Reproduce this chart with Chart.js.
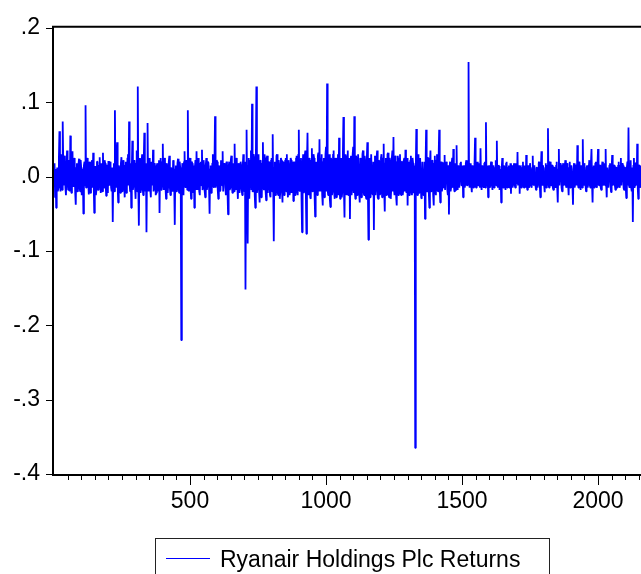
<!DOCTYPE html>
<html>
<head>
<meta charset="utf-8">
<title>Ryanair Holdings Plc Returns</title>
<script src="https://cdn.jsdelivr.net/npm/chart.js@4/dist/chart.umd.min.js"></script>
<style>
  html, body { margin: 0; padding: 0; background: #ffffff; overflow: hidden; }
  canvas { display: block; }
</style>
</head>
<body>
<canvas id="chart" width="641" height="574"></canvas>
<script>
// Daily returns, one reading every 2nd observation (obs 0, 2, 4, ...).
const seriesLabel = 'Ryanair Holdings Plc Returns';
const obsStep = 2;
const returns = [
  // obs 0-78
  0.005, 0.018, -0.028, 0.01, -0.042, -0.005, 0.012, -0.02, -0.015, 0.025, 0.061, -0.01, -0.02, 0.015, 0.03, -0.018, 0.074, 0.02, -0.012, 0.028, 0.022, -0.015, -0.025, 0.012, 0.035, -0.008, -0.018, 0.022, 0.02, -0.02, 0.055, 0.01, -0.022, 0.018, 0.034, -0.01, -0.014, 0.025, 0.016, -0.022,
  // obs 80-158
  -0.038, 0.012, 0.018, -0.02, -0.01, 0.016, 0.024, -0.015, -0.02, 0.022, 0.012, -0.025, -0.016, 0.01, -0.05, 0.015, 0.02, -0.012, 0.096, -0.015, -0.012, 0.025, 0.018, -0.01, -0.024, 0.02, 0.015, -0.022, -0.01, 0.018, 0.022, -0.015, 0.032, -0.01, -0.049, 0.012, 0.014, -0.025, -0.018, 0.02,
  // obs 160-238
  0.02, -0.018, -0.008, 0.015, 0.026, -0.012, -0.022, 0.018, 0.012, -0.02, 0.032, -0.01, -0.015, 0.022, 0.018, -0.012, -0.026, 0.016, 0.01, -0.022, 0.021, -0.01, -0.012, 0.02, 0.015, -0.015, -0.02, 0.012, -0.061, 0.005, 0.018, -0.02, 0.089, -0.01, -0.014, 0.022, 0.046, -0.012, -0.035, 0.015,
  // obs 240-318
  0.012, -0.015, -0.022, 0.018, 0.026, -0.02, -0.01, 0.022, 0.018, -0.012, -0.028, 0.015, 0.02, -0.022, -0.015, 0.025, 0.03, -0.012, 0.074, -0.01, -0.02, 0.018, -0.042, 0.01, 0.048, -0.018, -0.012, 0.02, 0.022, -0.015, -0.03, 0.018, 0.035, -0.02, 0.121, -0.015, -0.066, 0.012, 0.025, -0.022,
  // obs 320-398
  -0.018, 0.02, 0.03, -0.015, -0.025, 0.022, 0.059, -0.02, -0.012, 0.018, -0.075, 0.01, 0.072, -0.015, -0.02, 0.025, 0.015, -0.018, -0.028, 0.02, 0.02, -0.012, 0.036, -0.02, -0.015, 0.018, 0.012, -0.025, -0.022, 0.015, 0.018, -0.02, -0.01, 0.022, -0.049, 0.012, 0.025, -0.018, -0.012, 0.02,
  // obs 400-478
  0.044, -0.012, -0.018, 0.025, 0.02, -0.015, -0.03, 0.018, 0.015, -0.022, -0.012, 0.02, 0.028, -0.015, -0.025, 0.012, 0.01, -0.018, -0.02, 0.022, 0.018, -0.012, -0.065, 0.01, 0.015, -0.02, -0.01, 0.018, 0.024, -0.015, -0.022, 0.02, 0.012, -0.01, -0.22, 0.005, 0.018, -0.015, -0.025, 0.02,
  // obs 480-558
  0.034, -0.012, -0.015, 0.022, 0.02, -0.018, 0.089, -0.01, -0.02, 0.018, 0.025, -0.015, -0.03, 0.02, 0.018, -0.022, -0.012, 0.015, -0.042, 0.012, 0.022, -0.018, 0.034, -0.012, -0.018, 0.025, 0.015, -0.02, -0.025, 0.018, 0.02, -0.012, 0.036, -0.018, -0.015, 0.022, 0.012, -0.02, -0.028, 0.015,
  // obs 560-638
  0.025, -0.018, -0.012, 0.02, 0.018, -0.015, -0.05, 0.01, 0.015, -0.022, -0.02, 0.018, 0.03, -0.012, -0.015, 0.02, 0.081, -0.015, -0.01, 0.022, 0.02, -0.018, -0.03, 0.015, 0.012, -0.02, -0.018, 0.022, 0.022, -0.012, 0.034, -0.02, -0.02, 0.018, 0.015, -0.015, -0.025, 0.02, 0.018, -0.022,
  // obs 640-718
  -0.051, 0.012, 0.02, -0.018, -0.015, 0.022, 0.028, -0.012, -0.022, 0.018, 0.012, -0.02, 0.044, -0.015, -0.018, 0.025, 0.02, -0.012, -0.03, 0.018, 0.015, -0.022, -0.012, 0.02, 0.014, -0.018, -0.025, 0.015, 0.03, -0.012, -0.02, 0.02, -0.152, 0.01, 0.063, -0.02, -0.09, 0.015, 0.025, -0.03,
  // obs 720-798
  -0.03, 0.022, 0.035, -0.018, 0.098, -0.02, -0.02, 0.03, 0.025, -0.025, -0.042, 0.018, 0.121, -0.022, -0.015, 0.025, 0.03, -0.02, -0.035, 0.022, 0.02, -0.028, -0.025, 0.018, 0.046, -0.015, -0.018, 0.03, 0.022, -0.02, -0.032, 0.025, 0.028, -0.022, -0.012, 0.02, 0.018, -0.025, -0.028, 0.022,
  // obs 800-878
  0.025, -0.02, 0.057, -0.015, -0.087, 0.012, 0.02, -0.025, -0.015, 0.028, 0.03, -0.02, -0.025, 0.022, 0.015, -0.03, -0.02, 0.025, 0.022, -0.018, -0.035, 0.02, 0.018, -0.025, -0.012, 0.022, 0.025, -0.02, 0.03, -0.015, -0.028, 0.022, 0.015, -0.025, -0.02, 0.025, 0.022, -0.022, -0.015, 0.02,
  // obs 880-958
  -0.033, 0.018, 0.02, -0.025, -0.015, 0.025, 0.028, -0.02, -0.025, 0.03, 0.063, -0.018, -0.02, 0.022, 0.025, -0.03, -0.075, 0.015, 0.03, -0.022, -0.02, 0.028, 0.035, -0.025, -0.077, 0.02, 0.059, -0.02, -0.025, 0.025, 0.02, -0.028, -0.03, 0.022, 0.038, -0.02, -0.018, 0.03, 0.025, -0.025,
  // obs 960-1038
  -0.054, 0.015, 0.02, -0.022, -0.025, 0.028, 0.032, -0.02, 0.05, -0.015, -0.02, 0.025, 0.03, -0.025, -0.039, 0.02, 0.025, -0.028, -0.015, 0.03, 0.04, -0.02, 0.125, -0.018, -0.025, 0.022, 0.03, -0.03, -0.041, 0.025, 0.022, -0.025, -0.018, 0.03, 0.035, -0.022, -0.03, 0.025, 0.02, -0.028,
  // obs 1040-1118
  -0.022, 0.025, 0.03, -0.025, 0.052, -0.018, -0.03, 0.022, 0.025, -0.028, -0.02, 0.03, 0.08, -0.02, -0.055, 0.02, 0.03, -0.022, -0.025, 0.028, 0.035, -0.025, -0.02, 0.025, -0.057, 0.018, 0.028, -0.025, -0.015, 0.03, 0.04, -0.022, 0.081, -0.02, -0.03, 0.028, 0.025, -0.025, -0.02, 0.03,
  // obs 1120-1198
  0.03, -0.022, -0.035, 0.025, 0.022, -0.028, -0.018, 0.03, 0.035, -0.02, -0.025, 0.028, 0.02, -0.025, -0.03, 0.025, 0.046, -0.02, -0.085, 0.018, 0.025, -0.028, -0.02, 0.03, 0.03, -0.022, -0.025, 0.02, -0.072, 0.015, 0.028, -0.025, -0.015, 0.025, 0.035, -0.028, -0.03, 0.022, 0.02, -0.025,
  // obs 1200-1278
  -0.022, 0.025, 0.03, -0.028, -0.018, 0.025, 0.044, -0.02, -0.047, 0.018, 0.025, -0.025, -0.02, 0.03, 0.032, -0.022, -0.028, 0.025, 0.02, -0.03, -0.015, 0.025, 0.035, -0.02, 0.053, -0.018, -0.025, 0.028, 0.022, -0.028, -0.039, 0.02, 0.028, -0.025, -0.02, 0.025, 0.03, -0.022, -0.025, 0.02,
  // obs 1280-1358
  0.02, -0.025, -0.018, 0.022, 0.025, -0.02, 0.036, -0.018, -0.022, 0.025, -0.039, 0.015, 0.02, -0.025, -0.015, 0.022, 0.028, -0.02, -0.025, 0.025, 0.018, -0.022, -0.02, 0.015, -0.365, 0.01, 0.064, -0.02, -0.025, 0.028, 0.03, -0.022, -0.02, 0.025, 0.025, -0.028, -0.03, 0.02, 0.02, -0.025,
  // obs 1360-1438
  -0.022, 0.02, -0.057, 0.015, 0.063, -0.02, -0.02, 0.025, 0.025, -0.022, -0.042, 0.018, 0.035, -0.02, -0.018, 0.022, 0.02, -0.025, -0.039, 0.018, 0.028, -0.02, -0.025, 0.022, 0.03, -0.018, -0.02, 0.025, 0.063, -0.015, -0.035, 0.018, 0.02, -0.02, -0.015, 0.018, 0.018, -0.015, 0.029, -0.018,
  // obs 1440-1518
  -0.018, 0.02, 0.015, -0.018, -0.025, 0.015, -0.051, 0.01, 0.02, -0.02, -0.015, 0.018, 0.025, -0.015, 0.037, -0.012, -0.02, 0.018, 0.015, -0.018, 0.042, -0.01, -0.018, 0.015, 0.012, -0.015, -0.015, 0.018, 0.02, -0.012, -0.012, 0.015, -0.028, 0.01, 0.015, -0.015, -0.01, 0.018, 0.022, -0.012,
  // obs 1520-1598
  -0.012, 0.015, 0.154, -0.01, -0.015, 0.012, 0.018, -0.012, -0.021, 0.015, 0.012, -0.015, -0.01, 0.018, 0.052, -0.012, -0.015, 0.015, 0.02, -0.012, -0.012, 0.018, 0.015, -0.015, 0.038, -0.01, -0.018, 0.015, 0.012, -0.012, -0.015, 0.018, 0.02, -0.015, 0.073, -0.01, -0.012, 0.015, -0.028, 0.012,
  // obs 1600-1678
  0.015, -0.015, -0.012, 0.018, 0.02, -0.012, -0.018, 0.015, 0.012, -0.015, -0.01, 0.012, 0.022, -0.012, 0.048, -0.01, -0.015, 0.015, 0.014, -0.018, -0.012, 0.01, -0.035, 0.012, 0.025, -0.012, -0.015, 0.015, 0.012, -0.012, -0.018, 0.018, 0.02, -0.015, -0.01, 0.012, 0.015, -0.015, -0.012, 0.018,
  // obs 1680-1758
  -0.023, 0.012, 0.015, -0.015, -0.01, 0.015, 0.018, -0.012, -0.015, 0.018, 0.012, -0.01, 0.033, -0.012, -0.012, 0.015, -0.023, 0.01, 0.015, -0.015, -0.01, 0.012, 0.02, -0.012, -0.015, 0.015, 0.012, -0.015, 0.029, -0.01, -0.018, 0.012, 0.015, -0.015, -0.012, 0.018, 0.018, -0.012, -0.015, 0.012,
  // obs 1760-1838
  0.028, -0.01, -0.012, 0.015, 0.015, -0.012, -0.018, 0.012, 0.012, -0.015, -0.01, 0.018, 0.02, -0.012, -0.028, 0.012, 0.034, -0.01, -0.012, 0.015, 0.015, -0.012, -0.021, 0.012, 0.018, -0.015, -0.01, 0.015, 0.065, -0.01, -0.015, 0.018, 0.02, -0.012, -0.012, 0.015, 0.015, -0.015, -0.018, 0.012,
  // obs 1840-1918
  0.012, -0.012, -0.015, 0.015, 0.02, -0.015, -0.035, 0.01, 0.037, -0.012, -0.012, 0.018, 0.015, -0.015, -0.02, 0.012, 0.018, -0.012, -0.01, 0.015, 0.022, -0.012, -0.015, 0.018, 0.012, -0.01, -0.025, 0.012, 0.02, -0.015, -0.012, 0.015, 0.015, -0.012, -0.038, 0.01, 0.018, -0.015, -0.01, 0.015,
  // obs 1920-1998
  0.015, -0.012, 0.042, -0.01, -0.015, 0.018, 0.02, -0.012, -0.018, 0.015, 0.012, -0.015, 0.05, -0.01, -0.012, 0.018, 0.018, -0.012, -0.02, 0.012, 0.015, -0.015, -0.01, 0.012, 0.022, -0.012, -0.015, 0.018, 0.037, -0.01, -0.035, 0.012, 0.015, -0.015, -0.012, 0.018, 0.02, -0.012, -0.015, 0.015,
  // obs 2000-2078
  0.037, -0.01, -0.012, 0.015, 0.015, -0.015, -0.018, 0.012, 0.02, -0.012, -0.01, 0.015, 0.018, -0.012, 0.037, -0.01, -0.028, 0.012, 0.012, -0.015, -0.015, 0.015, 0.018, -0.012, -0.021, 0.01, 0.029, -0.012, -0.01, 0.015, 0.015, -0.012, -0.018, 0.012, 0.012, -0.015, -0.012, 0.015, 0.02, -0.012,
  // obs 2080-2158
  -0.015, 0.015, 0.025, -0.012, -0.012, 0.018, 0.015, -0.015, -0.018, 0.012, 0.012, -0.015, -0.029, 0.012, 0.02, -0.012, 0.066, -0.012, -0.015, 0.018, 0.022, -0.015, -0.02, 0.012, -0.061, 0.015, 0.025, -0.015, -0.012, 0.018, 0.018, -0.012, 0.044, -0.015, -0.03, 0.015, 0.015, -0.015, -0.012, 0.015
];

// Axis ticks
const yTickValues = [-0.4, -0.3, -0.2, -0.1, 0.0, 0.1, 0.2];
const xMajorTicks = [500, 1000, 1500, 2000];
const xMinorStep = 50;
const xMin = 0;
const xMax = 2158;

const points = returns.map((v, i) => ({ x: i * obsStep, y: v }));

const FONT = "'Liberation Sans', Arial, Helvetica, sans-serif";
const BLUE = '#0000ff';

function fmtY(v) {
  const s = (Math.round(v * 10) / 10).toFixed(1);
  return s.replace('0.', '.');
}

const whiteBackground = {
  id: 'whiteBackground',
  beforeDraw(chart) {
    const ctx = chart.ctx;
    ctx.save();
    ctx.fillStyle = '#ffffff';
    ctx.fillRect(0, 0, chart.width, chart.height);
    ctx.restore();
  }
};

// Frame, tick marks and boxed legend in the EViews style
const frameAndLegend = {
  id: 'frameAndLegend',
  afterDatasetsDraw(chart) {
    const { ctx, chartArea: a, scales } = chart;
    const xs = scales.x, ys = scales.y;
    ctx.save();
    ctx.strokeStyle = '#000000';

    // tick marks on the left axis
    ctx.lineWidth = 1;
    yTickValues.forEach(v => {
      const y = Math.round(ys.getPixelForValue(v)) + 0.5;
      ctx.beginPath();
      ctx.moveTo(a.left - 8, y);
      ctx.lineTo(a.left - 1, y);
      ctx.stroke();
    });

    // minor and major tick marks on the bottom axis
    for (let v = xMinorStep; v <= xMax; v += xMinorStep) {
      const x = Math.round(xs.getPixelForValue(v)) + 0.5;
      const major = xMajorTicks.includes(v);
      ctx.beginPath();
      ctx.moveTo(x, a.bottom + 1);
      ctx.lineTo(x, a.bottom + (major ? 11 : 6));
      ctx.stroke();
    }

    // axis frame (left, top, bottom)
    ctx.lineWidth = 2;
    ctx.beginPath();
    ctx.moveTo(chart.width, a.top - 1);
    ctx.lineTo(a.left - 1, a.top - 1);
    ctx.lineTo(a.left - 1, a.bottom + 1);
    ctx.lineTo(chart.width, a.bottom + 1);
    ctx.stroke();

    // legend box
    const ds = chart.data.datasets[0];
    ctx.lineWidth = 1;
    ctx.strokeStyle = '#222222';
    ctx.strokeRect(155.5, 538.5, 394, 60);
    ctx.strokeStyle = ds.borderColor;
    ctx.lineWidth = 1.2;
    ctx.beginPath();
    ctx.moveTo(166, 558.5);
    ctx.lineTo(210, 558.5);
    ctx.stroke();
    ctx.fillStyle = '#000000';
    ctx.font = '23px ' + FONT;
    ctx.textBaseline = 'alphabetic';
    ctx.textAlign = 'left';
    ctx.fillText(ds.label, 220, 567);
    ctx.restore();
  }
};

new Chart(document.getElementById('chart'), {
  type: 'line',
  data: {
    datasets: [{
      label: seriesLabel,
      data: points,
      borderColor: BLUE,
      borderWidth: 1.8,
      borderJoinStyle: 'bevel',
      pointRadius: 0,
      tension: 0,
      fill: false
    }]
  },
  options: {
    responsive: false,
    animation: false,
    events: [],
    layout: { padding: { top: 26, right: 0, bottom: 0, left: 0 } },
    plugins: {
      legend: { display: false },
      tooltip: { enabled: false }
    },
    scales: {
      x: {
        type: 'linear',
        min: xMin,
        max: xMax,
        grid: { display: false, drawTicks: false },
        border: { display: false },
        afterFit(scale) { scale.height = 100; },
        afterBuildTicks(scale) {
          scale.ticks = xMajorTicks.map(v => ({ value: v }));
        },
        ticks: {
          autoSkip: false,
          maxRotation: 0,
          padding: 14,
          color: '#000000',
          font: { family: FONT, size: 23 },
          callback: v => String(v)
        }
      },
      y: {
        min: -0.4,
        max: 0.2,
        grid: { display: false, drawTicks: false },
        border: { display: false },
        afterFit(scale) { scale.width = 54; },
        afterBuildTicks(scale) {
          scale.ticks = yTickValues.map(v => ({ value: v }));
        },
        ticks: {
          padding: 14,
          color: '#000000',
          font: { family: FONT, size: 23 },
          callback: v => fmtY(v)
        }
      }
    }
  },
  plugins: [whiteBackground, frameAndLegend]
});
</script>
</body>
</html>
